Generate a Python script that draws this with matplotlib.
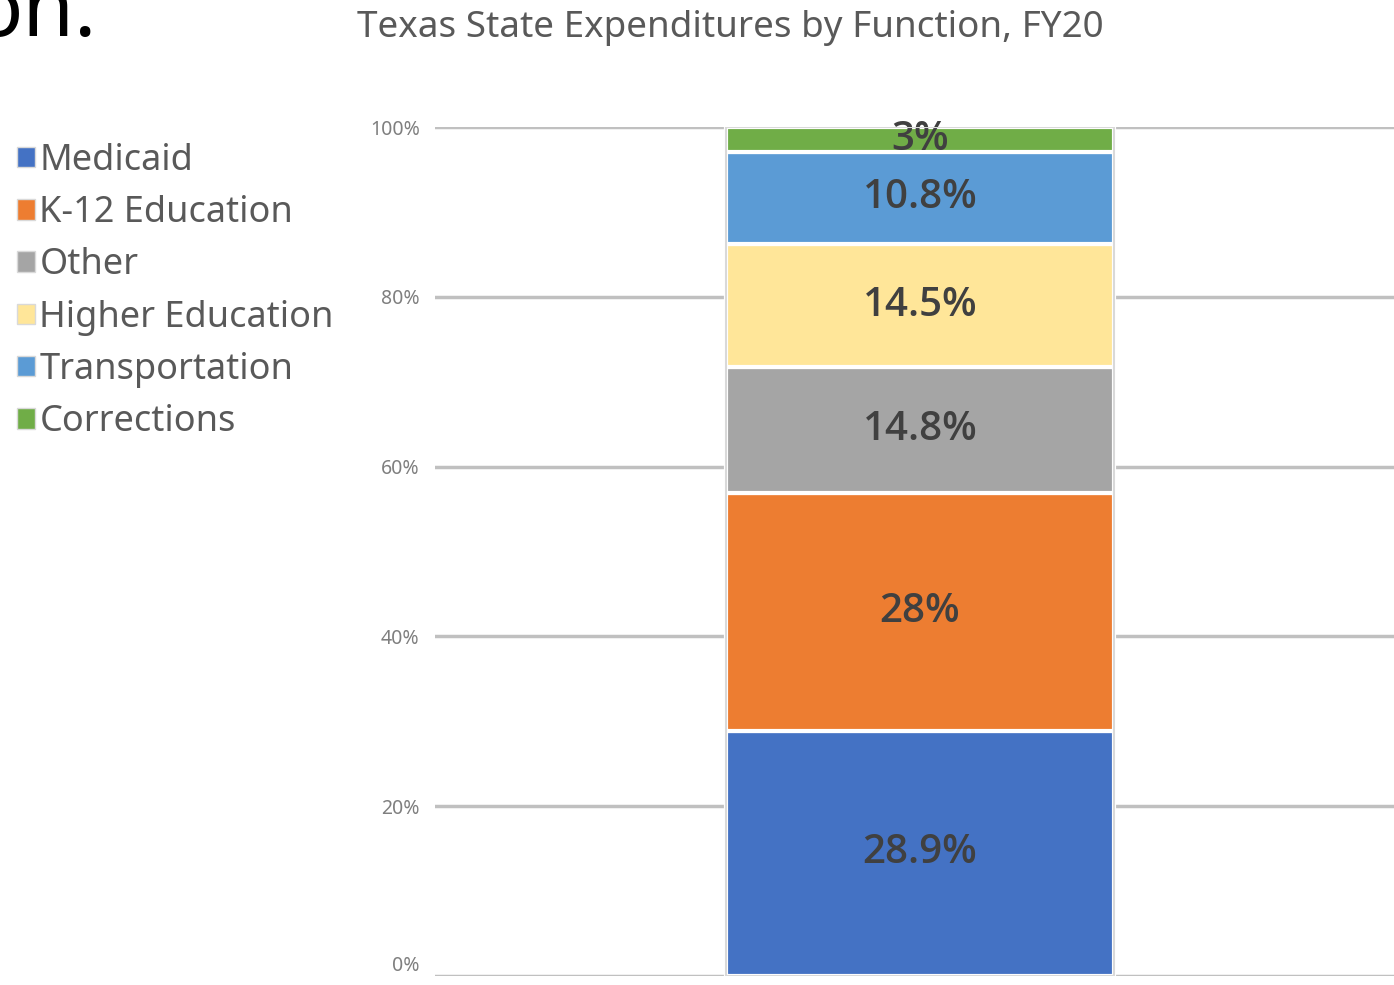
import matplotlib
matplotlib.use("Agg")
import matplotlib.pyplot as plt

# data (bottom to top of the stack)
categories = ["Medicaid", "K-12 Education", "Other", "Higher Education",
              "Transportation", "Corrections"]
shares = [28.9, 28.0, 14.8, 14.5, 10.8, 3.0]
labels = ["28.9%", "28%", "14.8%", "14.5%", "10.8%", "3%"]
colors = ["#4472C4", "#ED7D31", "#A5A5A5", "#FFE699", "#5B9BD5", "#70AD47"]
yticks = [0, 20, 40, 60, 80, 100]
ytick_labels = ["0%", "20%", "40%", "60%", "80%", "100%"]

plt.rcParams["font.family"] = ["Noto Sans", "DejaVu Sans"]

W, H = 1394, 985
fig = plt.figure(figsize=(W / 100, H / 100), dpi=100)
ax = fig.add_axes([435 / W, (H - 976) / H, (W - 435) / W, (976 - 127) / H])

bottom = 0
handles = []
for cat, val, lab, col in zip(categories, shares, labels, colors):
    b = ax.bar(0, val, bottom=bottom, width=1.0, color=col,
               edgecolor="white", linewidth=3, label=cat, zorder=3)
    handles.append(b)
    ax.text(0, bottom + val / 2, lab, ha="center", va="center",
            fontsize=29, fontweight="semibold", family=["Open Sans", "DejaVu Sans"],
            color="#404040", zorder=4)
    bottom += val

# faint outline around the whole bar
ax.bar(0, sum(shares), width=1.0, fill=False, edgecolor="#D9D9D9",
       linewidth=1.5, zorder=5)

ax.set_xlim(-0.5 - (726 - 435) / 388, 0.5 + (1394 - 1114) / 388)
ax.set_ylim(0, 100)
ax.set_yticks(yticks)
ax.set_yticklabels(ytick_labels, fontsize=14, color="#7F7F7F")
ax.tick_params(axis="y", length=0, pad=11)
ax.set_xticks([])
ax.yaxis.grid(True, color="#C0C0C0", linewidth=2.5, zorder=0)
ax.set_axisbelow(True)
for s in ax.spines.values():
    s.set_visible(False)
ax.patch.set_alpha(0)
# lowest tick label sits right at the bottom edge; lift it a touch
ax.get_yticklabels()[0].set_verticalalignment("bottom")

fig.text(730 / W, 1 - 28 / H, "Texas State Expenditures by Function, FY20",
         ha="center", va="center", fontsize=26.5, color="#595959")

# slide heading cut off at the top left
fig.text(97 / W, 1 - 36 / H, "on.", ha="right", va="baseline",
         fontsize=60, color="black")

leg = fig.legend(handles=handles, labels=categories, loc="upper left",
                 bbox_to_anchor=(17 / W, 1 - 143 / H), frameon=False,
                 fontsize=26, labelcolor="#595959", handlelength=0.5,
                 handleheight=0.5, handletextpad=0.12, labelspacing=0.45,
                 borderaxespad=0, borderpad=0)
for p in leg.get_patches():
    p.set_edgecolor("#D9D9D9")
    p.set_linewidth(1)

fig.savefig("out.png", dpi=100)
